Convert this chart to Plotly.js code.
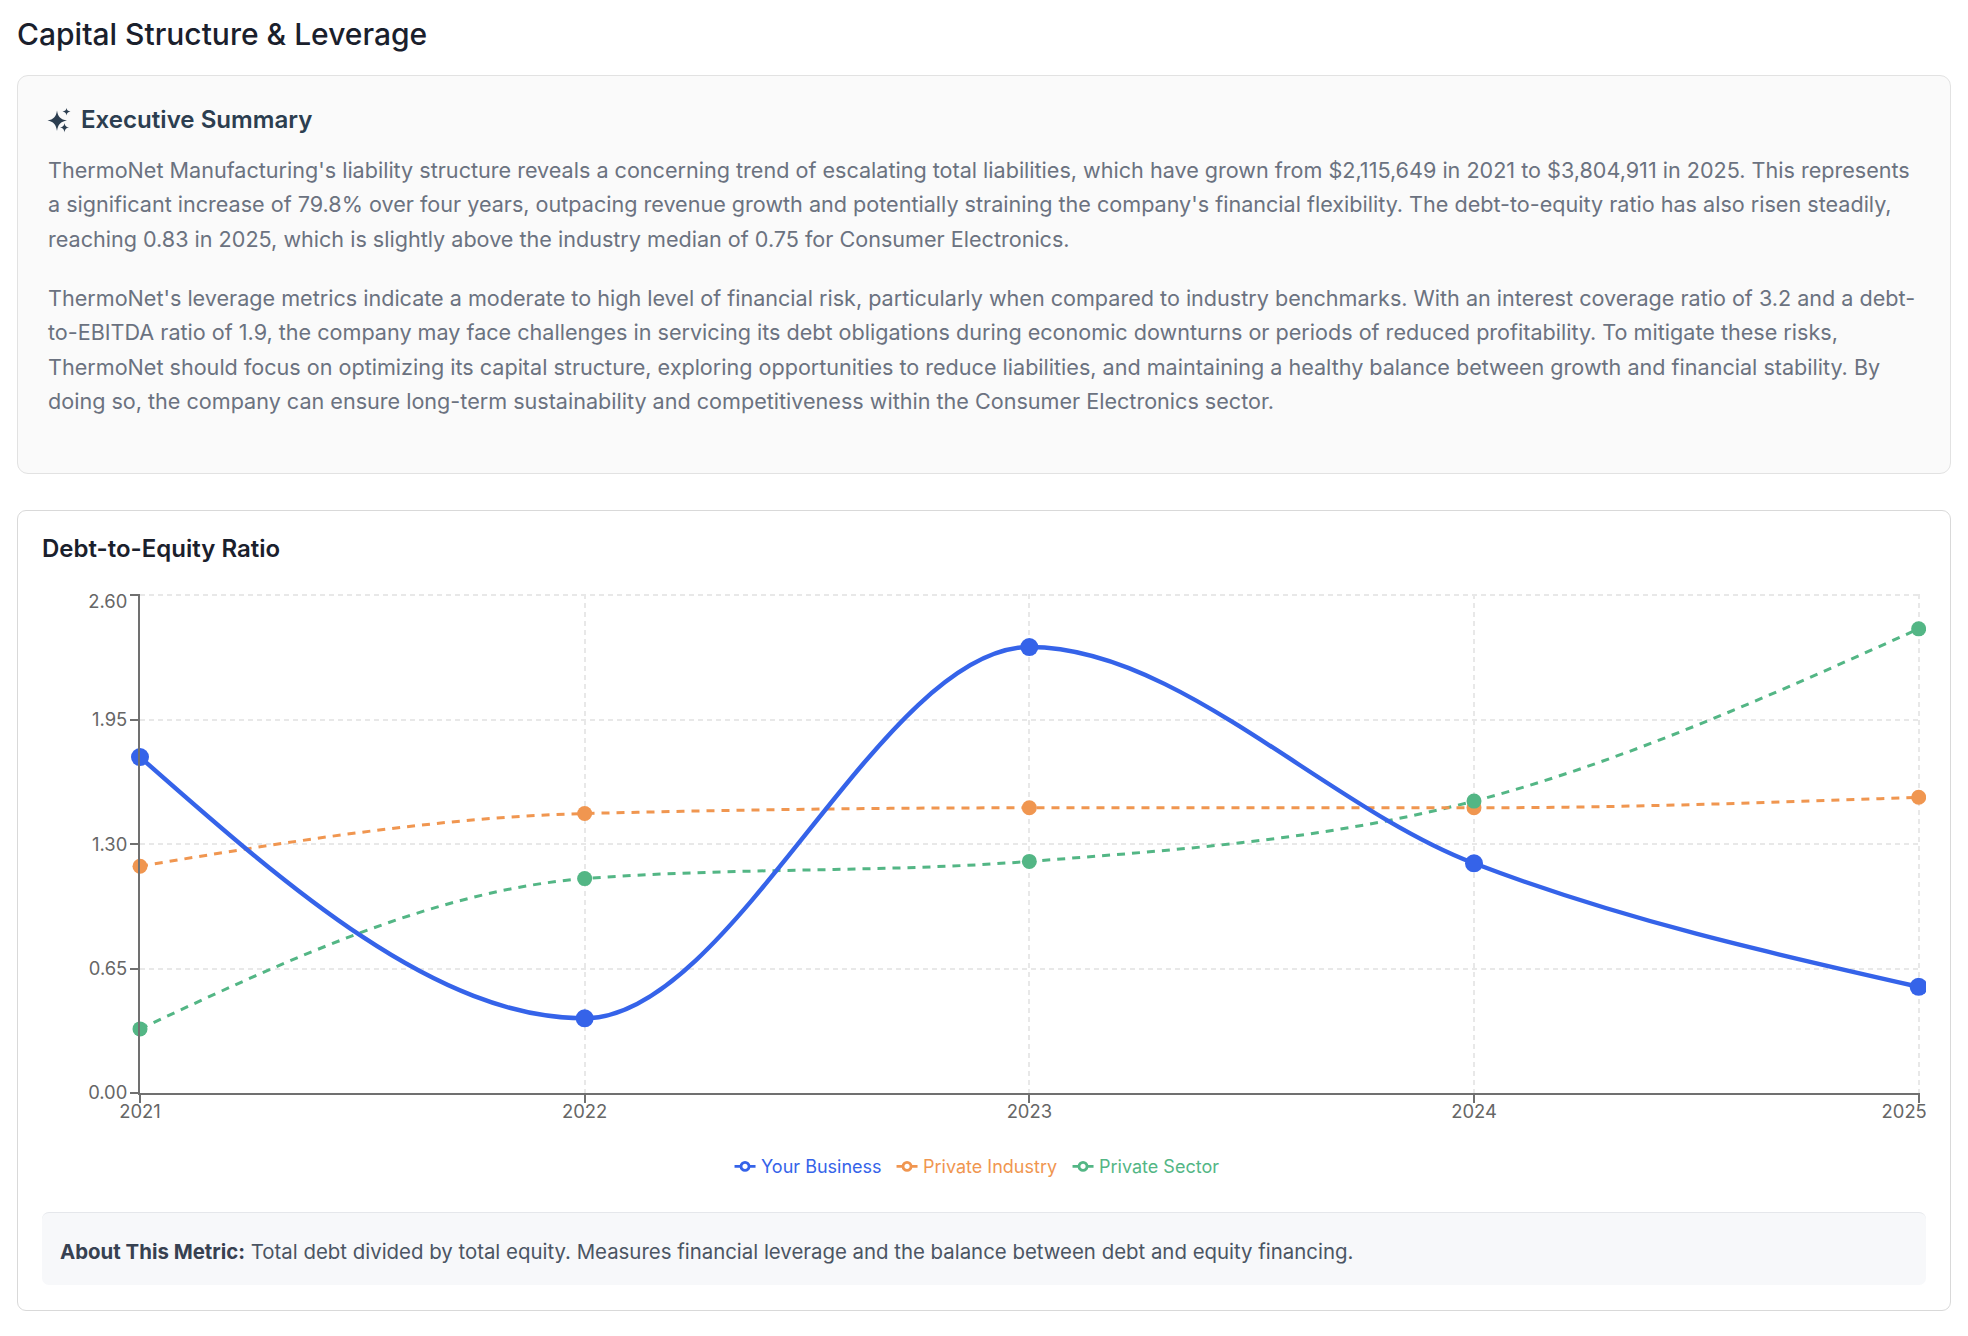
<!DOCTYPE html>
<html>
<head>
<meta charset="utf-8">
<script src="https://cdn.plot.ly/plotly-3.0.1.min.js"></script>
<style>
html,body{margin:0;padding:0;background:#fff;width:1968px;height:1336px;overflow:hidden;font-family:Inter,sans-serif}
.abs{position:absolute;white-space:nowrap}
#page-title{left:17px;top:15px;font-size:30px;line-height:38px;font-weight:500;color:#1a202c}
#sum-card{left:17px;top:75px;width:1932px;height:397px;background:#fafafa;border:1.5px solid #e2e2e2;border-radius:11px}
#sum-head{left:81px;top:103px;font-size:24.1px;line-height:34px;font-weight:600;color:#2c3e50}
.body-text{left:48px;font-size:21.58px;line-height:34.56px;color:#6b7280}
#chart-card{left:17px;top:510px;width:1932px;height:799px;background:#fff;border:1.5px solid #d9d9d9;border-radius:9px}
#chart-head{left:42px;top:532px;font-size:24px;line-height:34px;font-weight:600;color:#1a202c}
#about{left:42px;top:1212px;width:1884px;height:73px;background:#f7f8fa;border-top:1.5px solid #e5e7eb;border-radius:7px;box-sizing:border-box}
#about-text{left:60px;top:1235.5px;font-size:20.4px;line-height:32px;color:#4b5563}
#about-text b{font-weight:700;color:#374151}
#plot{position:absolute;left:42px;top:570px;width:1884px;height:630px}
</style>
</head>
<body>
<div id="page-title" class="abs">Capital Structure &amp; Leverage</div>
<div id="sum-card" class="abs"></div>
<svg class="abs" style="left:46px;top:107px" width="26" height="26" viewBox="0 0 26 26" fill="#2c3e50">
<path d="M11 3.5 C12 10 14.5 12.5 21 13.5 C14.5 14.5 12 17.5 11 24 C10 17.5 7.5 14.5 1.5 13.5 C7.5 12.5 10 10 11 3.5Z"/>
<path d="M20.5 1 C21 3.2 21.8 4 24.5 4.5 C21.8 5 21 5.8 20.5 8.5 C20 5.8 19.2 5 16.5 4.5 C19.2 4 20 3.2 20.5 1Z"/>
<path d="M18.5 16 C19 18.8 19.8 19.8 23 20.5 C19.8 21.2 19 22.2 18.5 25.5 C18 22.2 17.2 21.2 14 20.5 C17.2 19.8 18 18.8 18.5 16Z"/>
</svg>
<div id="sum-head" class="abs">Executive Summary</div>
<div class="abs body-text" style="top:152.7px">ThermoNet Manufacturing's liability structure reveals a concerning trend of escalating total liabilities, which have grown from $2,115,649 in 2021 to $3,804,911 in 2025. This represents<br>a significant increase of 79.8% over four years, outpacing revenue growth and potentially straining the company's financial flexibility. The debt-to-equity ratio has also risen steadily,<br>reaching 0.83 in 2025, which is slightly above the industry median of 0.75 for Consumer Electronics.</div>
<div class="abs body-text" style="top:280.8px">ThermoNet's leverage metrics indicate a moderate to high level of financial risk, particularly when compared to industry benchmarks. With an interest coverage ratio of 3.2 and a debt-<br>to-EBITDA ratio of 1.9, the company may face challenges in servicing its debt obligations during economic downturns or periods of reduced profitability. To mitigate these risks,<br>ThermoNet should focus on optimizing its capital structure, exploring opportunities to reduce liabilities, and maintaining a healthy balance between growth and financial stability. By<br>doing so, the company can ensure long-term sustainability and competitiveness within the Consumer Electronics sector.</div>
<div id="chart-card" class="abs"></div>
<div id="chart-head" class="abs">Debt-to-Equity Ratio</div>
<div id="plot"></div>
<div id="about" class="abs"></div>
<div id="about-text" class="abs"><b>About This Metric:</b> Total debt divided by total equity. Measures financial leverage and the balance between debt and equity financing.</div>
<script>
const years = [2021, 2022, 2023, 2024, 2025];
const yTicks = [0, 0.65, 1.30, 1.95, 2.60];
const yourBusiness = [1.755, 0.39, 2.33, 1.20, 0.555];
const privateIndustry = [1.185, 1.46, 1.49, 1.49, 1.545];
const privateSector = [0.335, 1.12, 1.21, 1.525, 2.425];
const seriesNames = ['Your Business', 'Private Industry', 'Private Sector'];
const seriesColors = ['#3563E9', '#F09650', '#53B685'];

// Monotone cubic curve through the data, expressed in data coordinates
function monotonePath(x, y) {
  const n = x.length, h = [], s = [], t = new Array(n);
  for (let i = 0; i < n - 1; i++) { h[i] = x[i + 1] - x[i]; s[i] = (y[i + 1] - y[i]) / h[i]; }
  for (let i = 1; i < n - 1; i++) {
    const p = (s[i - 1] * h[i] + s[i] * h[i - 1]) / (h[i - 1] + h[i]);
    t[i] = (Math.sign(s[i - 1]) + Math.sign(s[i])) * Math.min(Math.abs(s[i - 1]), Math.abs(s[i]), 0.5 * Math.abs(p)) || 0;
  }
  t[0] = (3 * s[0] - t[1]) / 2;
  t[n - 1] = (3 * s[n - 2] - t[n - 2]) / 2;
  let d = `M${x[0]},${y[0]}`;
  for (let i = 0; i < n - 1; i++) {
    const dx = h[i] / 3;
    d += ` C${(x[i] + dx).toFixed(4)},${(y[i] + dx * t[i]).toFixed(4)} ${(x[i + 1] - dx).toFixed(4)},${(y[i + 1] - dx * t[i + 1]).toFixed(4)} ${x[i + 1]},${y[i + 1]}`;
  }
  return d;
}

const seriesValues = [yourBusiness, privateIndustry, privateSector];
const markerSizes = [18, 15, 15];
const lineWidths = [4.4, 3, 3];
const lineDashes = ['solid', '8px,7px', '8px,7px'];

const traces = seriesNames.map((name, i) => ({
  type: 'scatter', mode: 'lines+markers', name, x: years, y: seriesValues[i], cliponaxis: false,
  line: { color: seriesColors[i], width: 0 },
  marker: { color: seriesColors[i], size: markerSizes[i], line: { width: 0 } },
  hoverinfo: 'x+y+name'
}));

const curveShapes = [2, 1, 0].map(i => ({
  type: 'path', layer: 'between', xref: 'x', yref: 'y',
  path: monotonePath(years, seriesValues[i]),
  line: { color: seriesColors[i], width: lineWidths[i], dash: lineDashes[i] }
}));

const axisColor = '#707070', gridColor = '#e8e8e8', tickFont = { family: 'Inter', size: 18.4, color: '#666666' };
const layout = {
  width: 1884, height: 630,
  margin: { l: 97.5, r: 6.2, t: 23.7, b: 107 },
  paper_bgcolor: 'rgba(0,0,0,0)', plot_bgcolor: 'rgba(0,0,0,0)',
  font: { family: 'Inter' },
  hovermode: 'closest',
  shapes: curveShapes,
  xaxis: {
    type: 'linear', range: [2021, 2025.003], tickmode: 'array', tickvals: years, ticktext: years.map(String),
    showline: true, linecolor: axisColor, linewidth: 2, ticks: 'outside', ticklen: 8, tickwidth: 1.5, tickcolor: axisColor,
    showgrid: true, gridcolor: gridColor, gridwidth: 1.5, griddash: '5px,4px', zeroline: false, tickfont: tickFont,
    ticklabelstandoff: -7, ticklabeloverflow: 'allow'
  },
  yaxis: {
    type: 'linear', range: [0, 2.607], tickmode: 'array', tickvals: yTicks, ticktext: yTicks.map(v => v.toFixed(2)),
    showline: true, linecolor: axisColor, linewidth: 2, ticks: 'outside', ticklen: 8, tickwidth: 1.5, tickcolor: axisColor,
    showgrid: true, gridcolor: gridColor, gridwidth: 1.5, griddash: '5px,4px', zeroline: false, tickfont: tickFont,
    ticklabelstandoff: -1, ticklabeloverflow: 'allow'
  },
  legend: {
    orientation: 'h', x: 0.3312, xanchor: 'left', y: -0.1106, yanchor: 'top',
    font: { family: 'Inter', size: 18 }, bgcolor: 'rgba(0,0,0,0)', itemclick: false, itemdoubleclick: false
  }
};

Plotly.newPlot('plot', traces, layout, { displayModeBar: false }).then(gd => {
  // Reference styles the legend keys hollow and solid, with coloured labels
  const pitch = [0, 162, 338];
  gd.querySelectorAll('.legend .traces').forEach((g, i) => {
    const c = seriesColors[i];
    const m = /translate\(([^,]+),\s*([^)]+)\)/.exec(g.getAttribute('transform'));
    g.setAttribute('transform', `translate(${pitch[i]},${m ? m[2] : 0})`);
    const ln = g.querySelector('.legendlines path');
    if (ln) { ln.setAttribute('d', 'M5,0h21'); ln.style.stroke = c; ln.style.strokeWidth = '2.8px'; ln.style.strokeOpacity = 1; }
    const pt = g.querySelector('.legendpoints path');
    if (pt) { pt.setAttribute('transform', 'translate(15.5,0)'); pt.setAttribute('d', 'M4,0A4,4 0 1,1 0,-4A4,4 0 0,1 4,0Z'); pt.style.fill = '#fff'; pt.style.stroke = c; pt.style.strokeWidth = '2.8px'; }
    const tx = g.querySelector('.legendtext');
    if (tx) { tx.setAttribute('x', 31.5); tx.style.fill = c; }
  });
  // Edge tick labels are nudged inward in the reference
  gd.querySelectorAll('.xtick text').forEach(t => { if (t.textContent === '2025') t.setAttribute('x', parseFloat(t.getAttribute('x')) - 14.5); });
  gd.querySelectorAll('.ytick text').forEach(t => { if (t.textContent === '2.60') t.setAttribute('y', parseFloat(t.getAttribute('y')) + 6.5); });
});
</script>
</body>
</html>
